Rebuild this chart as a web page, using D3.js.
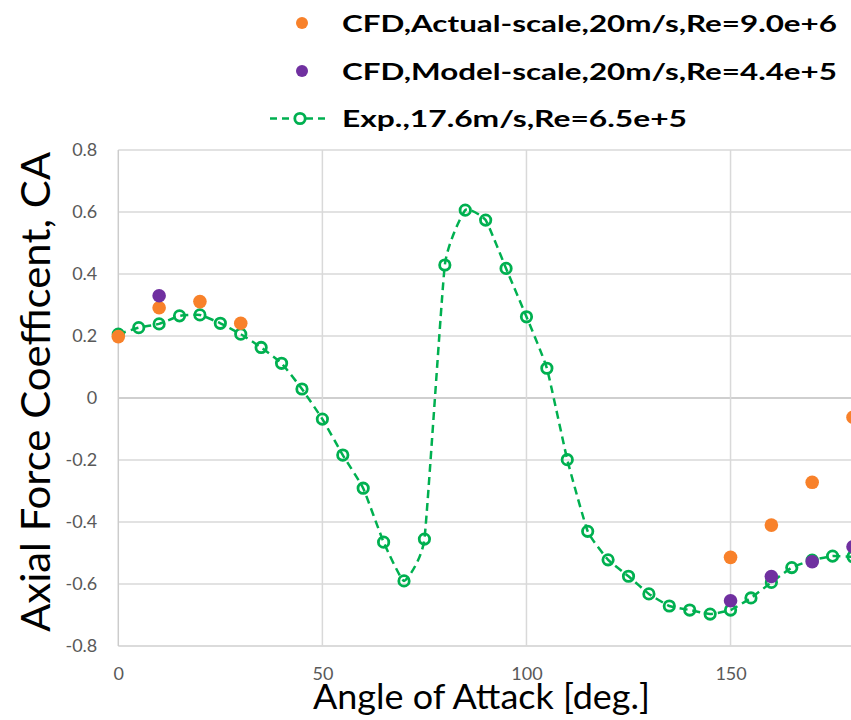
<!DOCTYPE html>
<html>
<head>
<meta charset="utf-8">
<script src="https://cdn.jsdelivr.net/npm/d3@7/dist/d3.min.js"></script>
<style>
  html, body { margin: 0; padding: 0; background: #fff; }
  svg { display: block; }
</style>
</head>
<body>
<svg id="chart" width="851" height="720"></svg>
<script>
// ---- data ----
const expAngles = [0,5,10,15,20,25,30,35,40,45,50,55,60,65,70,75,80,85,90,95,100,105,110,115,120,125,130,135,140,145,150,155,160,165,170,175,180];
const expCA = [0.206,0.227,0.239,0.265,0.268,0.241,0.206,0.163,0.112,0.029,-0.068,-0.184,-0.291,-0.465,-0.590,-0.455,0.429,0.606,0.574,0.418,0.262,0.096,-0.199,-0.430,-0.522,-0.575,-0.632,-0.671,-0.684,-0.697,-0.684,-0.645,-0.595,-0.547,-0.523,-0.510,-0.512];
const actualAngles = [0,10,20,30,150,160,170,180];
const actualCA = [0.198,0.291,0.311,0.241,-0.514,-0.410,-0.272,-0.062];
const modelAngles = [10,150,160,170,180];
const modelCA = [0.330,-0.654,-0.576,-0.528,-0.480];
const xTicks = [0,50,100,150];
const yTicks = [-0.8,-0.6,-0.4,-0.2,0,0.2,0.4,0.6,0.8];
const yTickLabels = ["-0.8","-0.6","-0.4","-0.2","0","0.2","0.4","0.6","0.8"];
const legendLabels = ["CFD,Actual-scale,20m/s,Re=9.0e+6","CFD,Model-scale,20m/s,Re=4.4e+5","Exp.,17.6m/s,Re=6.5e+5"];
const xTitle = "Angle of Attack [deg.]";
const yTitle = "Axial Force Coefficent, CA";

// ---- styles ----
const ORANGE = "#F8812A", PURPLE = "#7030A0", GREEN = "#00B050";
const FONT = "Lato, 'Open Sans', sans-serif";

const svg = d3.select("#chart");
const x = d3.scaleLinear().domain([0,180]).range([118.3, 853]);
const y = d3.scaleLinear().domain([-0.8,0.8]).range([646, 150]);

// grid
const g = svg.append("g");
g.selectAll("line.hg").data(yTicks).join("line")
  .attr("x1", x(0)).attr("x2", x(180))
  .attr("y1", d => y(d)).attr("y2", d => y(d))
  .attr("stroke", d => d === 0 ? "#bfbfbf" : (d === -0.8 ? "#cfcfcf" : "#d9d9d9"))
  .attr("stroke-width", 1.5);
g.selectAll("line.vg").data(xTicks).join("line")
  .attr("x1", d => x(d)).attr("x2", d => x(d))
  .attr("y1", y(0.8)).attr("y2", y(-0.8))
  .attr("stroke", d => d === 0 ? "#cccccc" : "#d9d9d9")
  .attr("stroke-width", 1.5);

// axes (labels only, via d3 axis)
const yAxis = svg.append("g").attr("transform", `translate(${x(0)},0)`)
  .call(d3.axisLeft(y).tickValues(yTicks).tickSize(0).tickPadding(21)
    .tickFormat((d,i) => yTickLabels[i]));
yAxis.select(".domain").remove();
yAxis.selectAll("text").attr("font-family", FONT).attr("font-size", 18).attr("fill", "#595959");

const xAxis = svg.append("g").attr("transform", `translate(0,${y(-0.8)})`)
  .call(d3.axisBottom(x).tickValues(xTicks).tickSize(0).tickPadding(21).tickFormat(d3.format("d")));
xAxis.select(".domain").remove();
xAxis.selectAll("text").attr("font-family", FONT).attr("font-size", 18).attr("fill", "#595959");

// exp line
const line = d3.line().x(d => x(d[0])).y(d => y(d[1])).curve(d3.curveCardinal.tension(0.6));
const expData = expAngles.map((a,i) => [a, expCA[i]]);
svg.append("path").datum(expData).attr("d", line)
  .attr("fill", "none").attr("stroke", GREEN).attr("stroke-width", 2.5)
  .attr("stroke-dasharray", "8,5");
svg.selectAll("circle.exp").data(expData).join("circle")
  .attr("cx", d => x(d[0])).attr("cy", d => y(d[1])).attr("r", 5.2)
  .attr("fill", "none").attr("stroke", GREEN).attr("stroke-width", 2.8);

// CFD actual
svg.selectAll("circle.act").data(actualAngles.map((a,i)=>[a, actualCA[i]])).join("circle")
  .attr("cx", d => x(d[0])).attr("cy", d => y(d[1])).attr("r", 6.8).attr("fill", ORANGE);
// CFD model
svg.selectAll("circle.mod").data(modelAngles.map((a,i)=>[a, modelCA[i]])).join("circle")
  .attr("cx", d => x(d[0])).attr("cy", d => y(d[1])).attr("r", 6.8).attr("fill", PURPLE);

// titles
svg.append("text").text(xTitle)
  .attr("x", 313).attr("y", 709)
  .attr("font-family", FONT).attr("font-size", 34).attr("fill", "#000")
  .attr("textLength", 337).attr("lengthAdjust", "spacingAndGlyphs");
svg.append("text").text(yTitle)
  .attr("transform", "translate(50,632) rotate(-90)")
  .attr("font-family", FONT).attr("font-size", 41).attr("fill", "#000")
  .attr("textLength", 480).attr("lengthAdjust", "spacingAndGlyphs");

// legend
const legY = [31.5, 79.5, 127];
const legLen = [495, 495, 345];
const leg = svg.append("g");
leg.append("circle").attr("cx", 302).attr("cy", legY[0] - 8.5).attr("r", 6).attr("fill", ORANGE);
leg.append("circle").attr("cx", 302).attr("cy", legY[1] - 8.5).attr("r", 6).attr("fill", PURPLE);
leg.append("line").attr("x1", 270).attr("x2", 329).attr("y1", legY[2] - 8.5).attr("y2", legY[2] - 8.5)
  .attr("stroke", GREEN).attr("stroke-width", 2.5).attr("stroke-dasharray", "7,5");
leg.append("circle").attr("cx", 300).attr("cy", legY[2] - 8.5).attr("r", 5.2)
  .attr("fill", "#fff").attr("stroke", GREEN).attr("stroke-width", 2.8);
leg.selectAll("text").data(legendLabels).join("text")
  .text(d => d)
  .attr("x", 342).attr("y", (d,i) => legY[i])
  .attr("font-family", FONT).attr("font-weight", "bold").attr("font-size", 23).attr("fill", "#000")
  .attr("textLength", (d,i) => legLen[i]).attr("lengthAdjust", "spacingAndGlyphs");
</script>
</body>
</html>
